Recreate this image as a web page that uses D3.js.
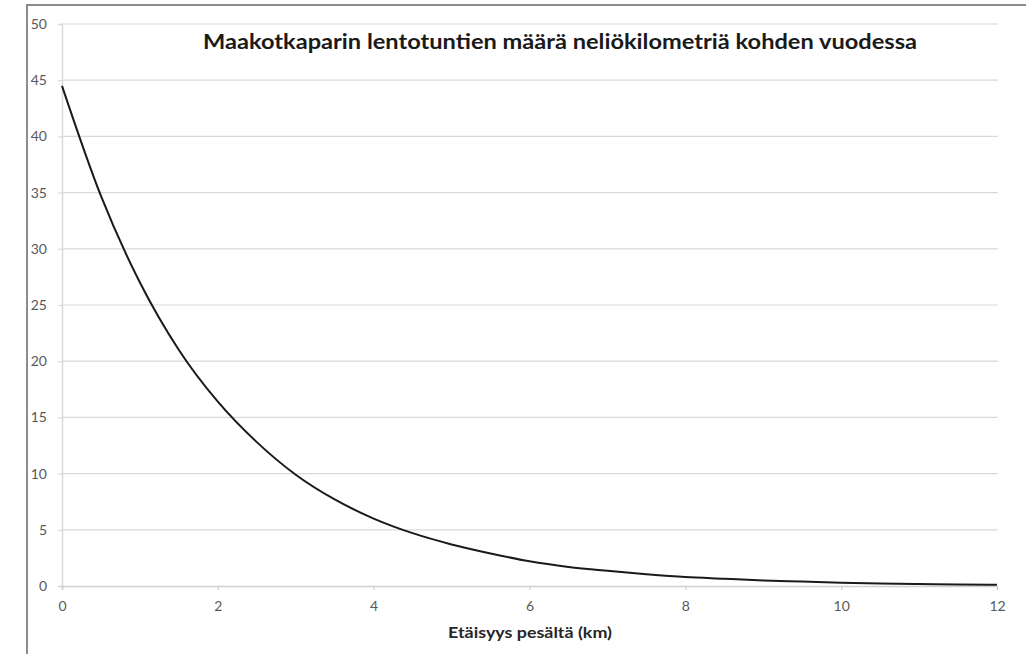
<!DOCTYPE html>
<html>
<head>
<meta charset="utf-8">
<script src="https://cdn.jsdelivr.net/npm/d3@7"></script>
<style>
  html, body { margin: 0; padding: 0; background: #fff; }
  svg { display: block; }
</style>
</head>
<body>
<svg id="chart" width="1026" height="654"></svg>
<script>
// Distance from the nest (km) and yearly flight hours per km²
const distanceKm = [0, 0.5, 1, 1.5, 2, 2.5, 3, 3.5, 4, 4.5, 5, 5.5, 6, 6.5, 7, 7.5, 8, 8.5, 9, 9.5, 10, 10.5, 11, 11.5, 12];
const flightHours = [44.5, 34.7, 27.0, 21.0, 16.4, 12.8, 9.9, 7.7, 6.0, 4.7, 3.7, 2.9, 2.2, 1.7, 1.35, 1.05, 0.8, 0.65, 0.5, 0.4, 0.3, 0.23, 0.18, 0.14, 0.11];
const xTicks = [0, 2, 4, 6, 8, 10, 12];
const yTicks = [0, 5, 10, 15, 20, 25, 30, 35, 40, 45, 50];
const titleText = "Maakotkaparin lentotuntien määrä neliökilometriä kohden vuodessa";
const xTitle = "Etäisyys pesältä (km)";

const svg = d3.select("#chart");
const plot = { left: 62, right: 997, top: 24, bottom: 586 };
const font = "Lato, 'Open Sans', sans-serif";

const x = d3.scaleLinear().domain([0, 12]).range([plot.left, plot.right]);
const y = d3.scaleLinear().domain([0, 50]).range([plot.bottom, plot.top]);

// outer frame (left and top edges)
svg.append("path")
  .attr("d", "M27,654 L27,5 L1026,5")
  .attr("fill", "none")
  .attr("stroke", "#8c8c8c")
  .attr("stroke-width", 2);

// horizontal gridlines
svg.append("g")
  .selectAll("line")
  .data(yTicks.filter(d => d > 0))
  .join("line")
  .attr("x1", plot.left).attr("x2", plot.right + 1)
  .attr("y1", d => y(d)).attr("y2", d => y(d))
  .attr("stroke", "#d9d9d9")
  .attr("stroke-width", 1.2);

// y axis
const yAxis = svg.append("g")
  .attr("transform", `translate(${plot.left},0)`)
  .call(d3.axisLeft(y).tickValues(yTicks).tickSize(4).tickPadding(11).tickFormat(d3.format("d")));
yAxis.select(".domain").attr("stroke", "#d9d9d9").attr("stroke-width", 1.5);
yAxis.selectAll(".tick line").attr("stroke", "#d9d9d9").attr("stroke-width", 1.2);
yAxis.selectAll("text")
  .attr("fill", "#595959")
  .style("font-family", font)
  .style("font-size", "14px");

// x axis
const xAxis = svg.append("g")
  .attr("transform", `translate(0,${plot.bottom})`)
  .call(d3.axisBottom(x).tickValues(xTicks).tickSize(4).tickPadding(11).tickFormat(d3.format("d")));
xAxis.select(".domain").attr("stroke", "#d0d0d0").attr("stroke-width", 1.5);
xAxis.selectAll(".tick line").attr("stroke", "#d0d0d0").attr("stroke-width", 1.2);
xAxis.selectAll("text")
  .attr("fill", "#595959")
  .style("font-family", font)
  .style("font-size", "14px");

// decay curve
const line = d3.line()
  .x((d, i) => x(distanceKm[i]))
  .y(d => y(d))
  .curve(d3.curveMonotoneX);
svg.append("path")
  .datum(flightHours)
  .attr("d", line)
  .attr("fill", "none")
  .attr("stroke", "#1a1a1a")
  .attr("stroke-width", 2);

// title
svg.append("text")
  .attr("x", 560).attr("y", 49)
  .attr("text-anchor", "middle")
  .attr("fill", "#1a1a1a")
  .style("font-family", font)
  .style("font-weight", "bold")
  .style("font-size", "20px")
  .attr("textLength", 714)
  .attr("lengthAdjust", "spacingAndGlyphs")
  .text(titleText);

// x axis title
svg.append("text")
  .attr("x", 530).attr("y", 638)
  .attr("text-anchor", "middle")
  .attr("fill", "#262626")
  .style("font-family", font)
  .style("font-weight", "bold")
  .style("font-size", "15px")
  .attr("textLength", 164)
  .attr("lengthAdjust", "spacingAndGlyphs")
  .text(xTitle);
</script>
</body>
</html>
